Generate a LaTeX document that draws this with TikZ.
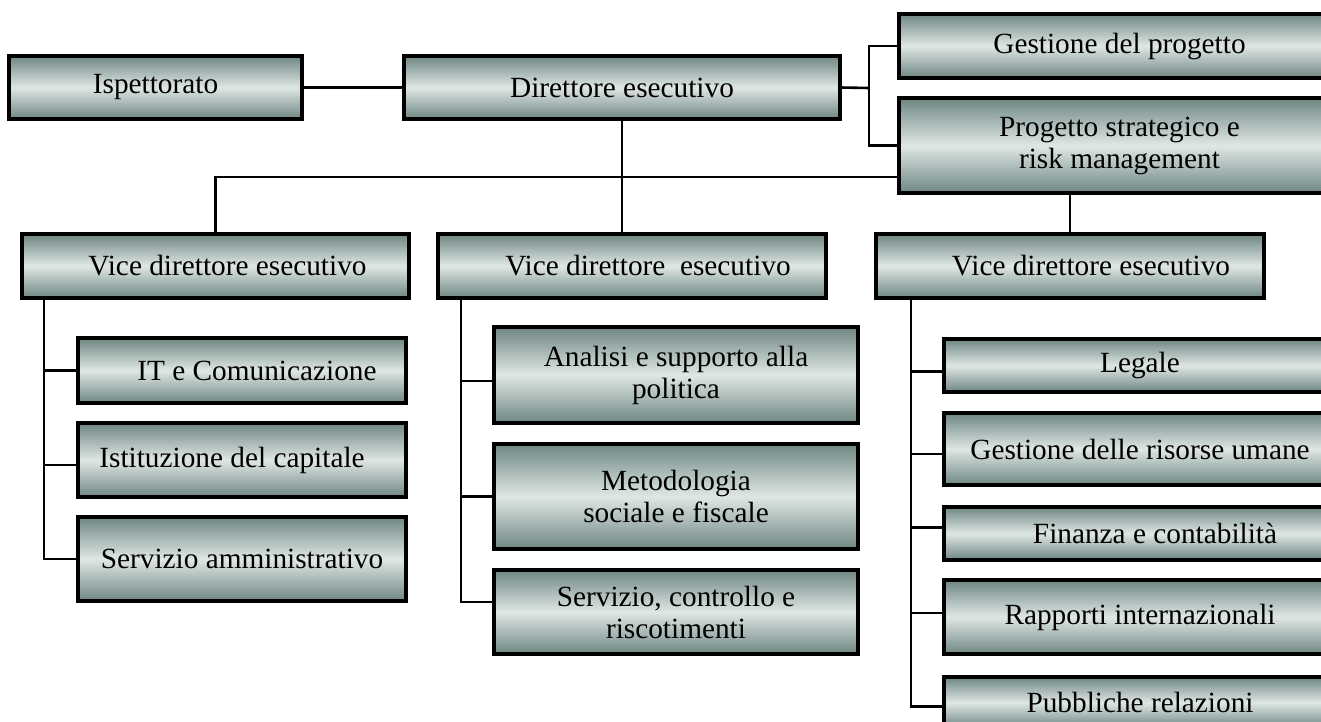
\documentclass[tikz,border=0pt]{standalone}
\usepackage{fontspec}
\setmainfont{Liberation Serif}
\definecolor{boxdark}{HTML}{6E8683}
\definecolor{boxlight}{HTML}{DFE7E5}
\usepackage{tikz}
\usetikzlibrary{positioning,calc}

\begin{document}
\begin{tikzpicture}[x=1pt, y=-1pt,
  unit/.style={draw=black, line width=3.2pt, top color=boxdark, bottom color=boxdark,
    middle color=boxlight, inner sep=0pt, outer sep=0pt, anchor=north west, align=center,
    font=\fontsize{29.3}{32}\selectfont},
  link/.style={line width=2.6pt},
  pushr/.style={execute at begin node={\hspace*{#1}}},
  pushl/.style={execute at end node={\hspace*{#1}}}]
\clip (0,0) rectangle (1321,722);

% vertice
\node[unit, minimum width=293pt, minimum height=63pt] (isp) at (9,56) {Ispettorato};
\node[unit, minimum width=436pt, minimum height=63pt] (dir) at (404,56) {Direttore esecutivo};
\node[unit, minimum width=441pt, minimum height=64pt] (gp) at (899,14) {Gestione del progetto};
\node[unit, minimum width=441pt, minimum height=95pt] (psr) at (899,98) {Progetto strategico e\\risk management};

% vice direttori
\node[unit, minimum width=387pt, minimum height=64pt, pushr=24pt] (vde1) at (22,234) {Vice direttore esecutivo};
\node[unit, minimum width=388pt, minimum height=64pt, pushr=32pt] (vde2) at (438,234) {Vice direttore\ \ esecutivo};
\node[unit, minimum width=388pt, minimum height=64pt, pushr=42pt] (vde3) at (876,234) {Vice direttore esecutivo};

% unita sinistra
\node[unit, minimum width=328pt, minimum height=65pt, pushr=30pt] (it) at (78,338) {IT e Comunicazione};
\node[unit, minimum width=328pt, minimum height=74pt, pushl=20pt] (ist) at (78,423) {Istituzione del capitale};
\node[unit, minimum width=328pt, minimum height=84pt] (sam) at (78,517) {Servizio amministrativo};

% unita centro
\node[unit, minimum width=364pt, minimum height=96pt] (ana) at (494,327) {Analisi e supporto alla\\politica};
\node[unit, minimum width=364pt, minimum height=105pt] (met) at (494,444) {Metodologia\\sociale e fiscale};
\node[unit, minimum width=364pt, minimum height=84pt] (scr) at (494,570) {Servizio, controllo e\\riscotimenti};

% unita destra
\node[unit, minimum width=392pt, minimum height=53pt] (leg) at (944,339) {Legale};
\node[unit, minimum width=392pt, minimum height=72pt] (gru) at (944,413) {Gestione delle risorse umane};
\node[unit, minimum width=392pt, minimum height=53pt, pushr=30pt] (fin) at (944,507) {Finanza e contabilità};
\node[unit, minimum width=392pt, minimum height=74pt] (rap) at (944,580) {Rapporti internazionali};
\node[unit, minimum width=392pt, minimum height=51pt] (pub) at (944,677) {Pubbliche relazioni};

% collegamenti in alto
\coordinate (jdir) at (869,88);
\coordinate (jvde) at (899,177);
\draw[link] (isp.east) -- (dir.west);
\draw[link] (dir.east) -- (jdir);
\draw[link] (gp.west) -| (jdir) |- (psr.west);
\draw[link] (vde1.north) |- (jvde);
\draw[link] (dir.south) -- (dir.south|-vde2.north);
\draw[link] (vde3.north) -- (vde3.north|-psr.south);

% rami
\coordinate (t1) at ([xshift=22pt]vde1.south west);
\coordinate (t2) at ([xshift=23pt]vde2.south west);
\coordinate (t3) at ([xshift=35pt]vde3.south west);
\draw[link] (t1) |- (it.west);
\draw[link] (t1) |- ([yshift=-5pt]ist.west);
\draw[link] (t1) |- (sam.west);
\draw[link] (t2) |- ([yshift=-6pt]ana.west);
\draw[link] (t2) |- (met.west);
\draw[link] (t2) |- ([yshift=10pt]scr.west);
\draw[link] (t3) |- ([yshift=-6pt]leg.west);
\draw[link] (t3) |- ([yshift=-5pt]gru.west);
\draw[link] (t3) |- ([yshift=6pt]fin.west);
\draw[link] (t3) |- ([yshift=4pt]rap.west);
\draw[link] (t3) |- ([yshift=-4pt]pub.west);
\end{tikzpicture}
\end{document}
